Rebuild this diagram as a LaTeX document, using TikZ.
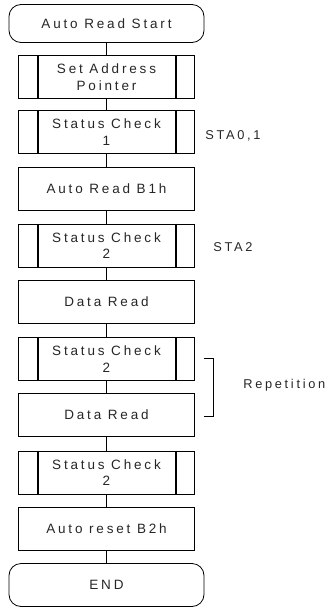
\documentclass[tikz,border=0pt]{standalone}
\usepackage{fontspec}
\setmainfont{Liberation Sans}[LetterSpace=21]
\usepackage{tikz}
\usetikzlibrary{calc,positioning}

\begin{document}
\begin{tikzpicture}[x=1pt,y=-1pt,line width=0.8pt,
  font=\fontsize{13.5}{16.5}\selectfont,
  term/.style={draw,rounded corners=12pt,minimum width=195pt,minimum height=38pt,inner sep=0pt,text=black!85},
  proc/.style={draw,minimum width=176pt,minimum height=43pt,inner sep=0pt,align=center,text=black!85},
  note/.style={text=black!85,anchor=west,inner sep=0pt,font=\fontsize{12.8}{15}\selectfont}]
\useasboundingbox (0,0) rectangle (327,608);
\node[term] (start) at (106.5,23.5) {Auto Read Start};
\node[proc] (setp) at (106.5,77) {Set Address\\Pointer};
\node[proc] (chk1) at (106.5,132) {Status Check\\1};
\node[proc] (rdb1) at (106.5,188.5) {Auto Read B1h};
\node[proc] (chk2) at (106.5,245.5) {Status Check\\2};
\node[proc] (dat1) at (106.5,302) {Data Read};
\node[proc] (chk3) at (106.5,359) {Status Check\\2};
\node[proc] (dat2) at (106.5,415) {Data Read};
\node[proc] (chk4) at (106.5,472.5) {Status Check\\2};
\node[proc] (rsb2) at (106.5,528.5) {Auto reset B2h};
\node[term,minimum height=43pt] (end) at (106.5,585) {END};
% predefined process bars
\foreach \n in {setp,chk1,chk2,chk3,chk4}{
  \draw[line width=1.4pt] ($(\n.north west)+(20,0)$) -- ($(\n.south west)+(20,0)$);
  \draw[line width=1.4pt] ($(\n.north east)+(-19,0)$) -- ($(\n.south east)+(-19,0)$);
}
% flow
\foreach \a/\b in {start/setp,setp/chk1,chk1/rdb1,rdb1/chk2,chk2/dat1,dat1/chk3,chk3/dat2,dat2/chk4,chk4/rsb2,rsb2/end}
  \draw (\a) -- (\b);
\node[note] (sta01) at (205,136) {STA0,1};
\node[note] (sta2) at (213,247) {STA2};
% repetition bracket
\coordinate (rtop) at (204,358);
\coordinate (rbot) at (204,416);
\draw (rtop) -| ($(rbot)+(9,0)$) -- (rbot);
\node[note] (rep) at (243,385) {Repetition};
\end{tikzpicture}
\end{document}
